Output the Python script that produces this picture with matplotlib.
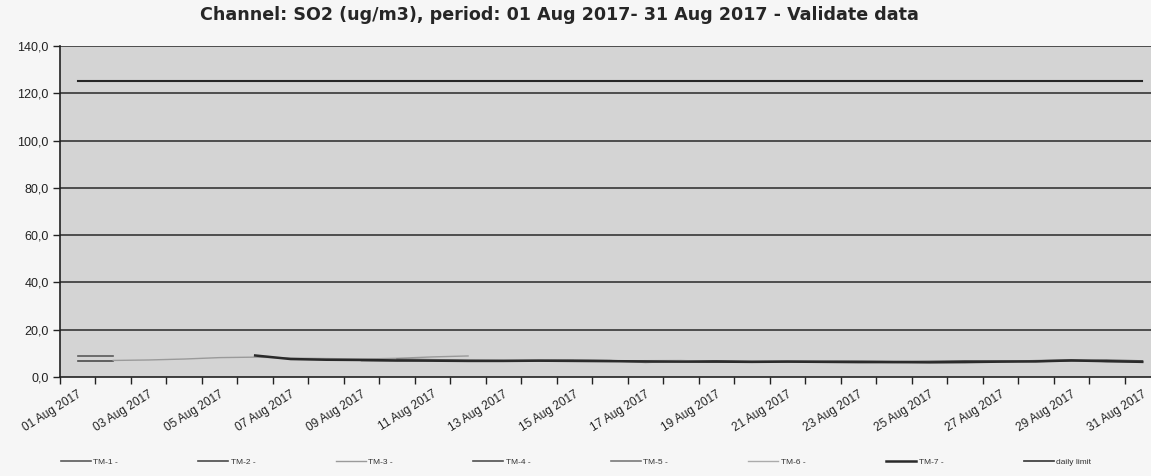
import numpy as np
import matplotlib
matplotlib.use("Agg")
import matplotlib.pyplot as plt
from matplotlib.ticker import FixedLocator, FuncFormatter

nan = np.nan

# ---- data ----
day_labels = ["01 Aug 2017", "02 Aug 2017", "03 Aug 2017", "04 Aug 2017", "05 Aug 2017",
              "06 Aug 2017", "07 Aug 2017", "08 Aug 2017", "09 Aug 2017", "10 Aug 2017",
              "11 Aug 2017", "12 Aug 2017", "13 Aug 2017", "14 Aug 2017", "15 Aug 2017",
              "16 Aug 2017", "17 Aug 2017", "18 Aug 2017", "19 Aug 2017", "20 Aug 2017",
              "21 Aug 2017", "22 Aug 2017", "23 Aug 2017", "24 Aug 2017", "25 Aug 2017",
              "26 Aug 2017", "27 Aug 2017", "28 Aug 2017", "29 Aug 2017", "30 Aug 2017",
              "31 Aug 2017"]

tm1 = [9.0, 9.0] + [nan] * 29
tm2 = [6.8, 6.8] + [nan] * 29
tm3 = [nan, 7.0, 7.2, 7.6, 8.2, 8.4, 8.0, 7.8, 7.6, 7.9, 8.5, 8.9] + [nan] * 19
tm4 = [nan] * 8 + [7.0, 6.9, 7.1, 6.8, 6.8, 6.9, 7.0, 6.9, 6.6, 6.7, 6.8, 6.5, 6.6,
                   6.6, 6.7, 6.5, 6.6, 6.8, 6.7, 6.6, 6.9, 7.1, 6.8]
tm5 = [nan] * 9 + [7.6, 7.3, 7.1, 7.0, 7.0, 7.1, 6.9, 6.2, 6.6, 6.4, 6.5, 6.4, 6.3,
                   6.4, 6.2, 6.4, 6.3, 6.5, 6.9, 7.2, 6.6, 6.5]
tm6 = [nan] * 14 + [7.0, 6.8, 6.9, 7.0, 6.4, 6.3, 6.2, 6.4, 6.6, 6.5, 6.3] + [nan] * 6
tm7 = [nan] * 5 + [9.1, 7.6, 7.3, 7.2, 7.0, 6.9, 6.8, 6.8, 6.9, 6.8, 6.7, 6.6, 6.5,
                   6.5, 6.4, 6.5, 6.4, 6.3, 6.3, 6.2, 6.3, 6.5, 6.6, 7.0, 6.7, 6.4]
daily_limit = [125.0] * 31

series_names = ["TM-1 -", "TM-2 -", "TM-3 -", "TM-4 -", "TM-5 -", "TM-6 -", "TM-7 -"]
y_ticks = [0, 20, 40, 60, 80, 100, 120, 140]

# ---- styles ----
series_styles = [
    dict(color="#5a5a5a", lw=1.2),
    dict(color="#4a4a4a", lw=1.2),
    dict(color="#9a9a9a", lw=1.0),
    dict(color="#505050", lw=1.2),
    dict(color="#7a7a7a", lw=1.2),
    dict(color="#ababab", lw=1.0),
    dict(color="#2a2a2a", lw=1.8),
]

fig = plt.figure(figsize=(11.51, 4.76), dpi=100)
fig.patch.set_facecolor("#f6f6f6")
W, H = 1151, 476
left_px, right_px, top_px, bottom_px = 60, 1160, 46, 377
ax = fig.add_axes([left_px / W, 1 - bottom_px / H, (right_px - left_px) / W,
                   (bottom_px - top_px) / H])
ax.set_facecolor("#d4d4d4")

x = np.arange(len(day_labels))

for yv in y_ticks[1:]:
    ax.axhline(yv, color="#3c3c3c", lw=1.25, zorder=1)

ax.plot(x, daily_limit, color="#262626", lw=1.5, zorder=2, label="daily limit")
handles = []
for name, vals, st in zip(series_names, [tm1, tm2, tm3, tm4, tm5, tm6, tm7], series_styles):
    h, = ax.plot(x, vals, zorder=3, label=name, **st)
    handles.append(h)

ax.set_xlim(-0.5, len(day_labels) - 0.5)
ax.set_ylim(0, 140)

# y axis
ax.set_yticks(y_ticks)
ax.set_yticklabels([f"{v:.1f}".replace(".", ",") for v in y_ticks],
                   fontsize=9, family="Liberation Sans", color="#222222")
ax.tick_params(axis="y", direction="out", length=5, width=1, color="#222222", pad=3)

# x axis: ticks at category boundaries, labels every 2 days
ax.xaxis.set_major_locator(FixedLocator(np.arange(-0.5, len(day_labels), 1.0)))
ax.xaxis.set_major_formatter(FuncFormatter(lambda v, p: ""))
ax.tick_params(axis="x", which="major", direction="out", length=5, width=1, color="#222222")
lab_idx = list(range(0, len(day_labels), 2))
ax.xaxis.set_minor_locator(FixedLocator(lab_idx))
ax.set_xticklabels([day_labels[i] for i in lab_idx], minor=True)
ax.tick_params(axis="x", which="minor", length=0, pad=8)
for lbl in ax.get_xticklabels(minor=True):
    lbl.set_rotation(32)
    lbl.set_ha("right")
    lbl.set_rotation_mode("anchor")
    lbl.set_fontsize(8.6)
    lbl.set_family("Liberation Sans")
    lbl.set_color("#222222")

for s in ["top", "right"]:
    ax.spines[s].set_visible(False)
for s in ["left", "bottom"]:
    ax.spines[s].set_color("#222222")
    ax.spines[s].set_linewidth(1.2)

fig.text(0.486, 0.968, "Channel: SO2 (ug/m3), period: 01 Aug 2017- 31 Aug 2017 - Validate data",
         ha="center", va="center", fontsize=12.6, fontweight="bold",
         family="DejaVu Sans", color="#262626")

lim_handle = ax.lines[0]
leg = fig.legend(handles + [lim_handle], series_names + ["daily limit"], ncol=8,
                 loc="center left", bbox_to_anchor=(53 / W, 1 - 462 / H),
                 frameon=False, handlelength=3.6, handletextpad=0.3,
                 columnspacing=9.65, prop=dict(family="Liberation Sans", size=6))
for t in leg.get_texts():
    t.set_color("#333333")

fig.savefig("out.png", dpi=100, facecolor=fig.get_facecolor())
